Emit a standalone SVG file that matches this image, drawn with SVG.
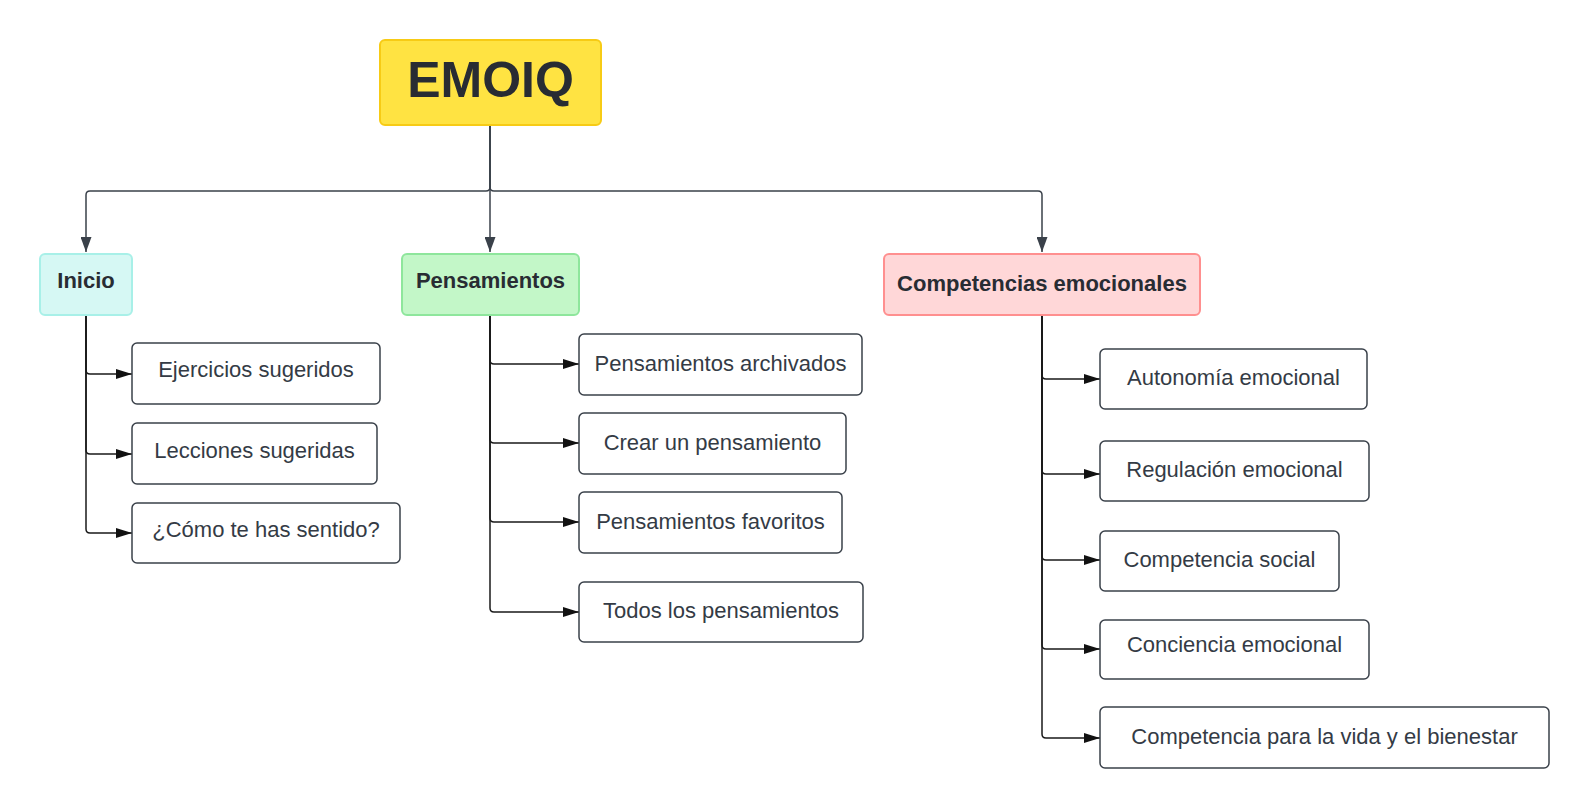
<svg xmlns="http://www.w3.org/2000/svg" width="1591" height="809" viewBox="0 0 1591 809">
  <style>
    .leaf { fill: #ffffff; stroke: #3a414a; stroke-width: 1.5; }
    .t { font-family: "Liberation Sans", Arial, sans-serif; font-size: 22px; fill: #343b45; text-anchor: middle; }
    .tb { font-family: "Liberation Sans", Arial, sans-serif; font-size: 22px; font-weight: bold; fill: #282c33; text-anchor: middle; }
    .top { fill: none; stroke: #3a414a; stroke-width: 1.5; }
    .sub { fill: none; stroke: #1a1a1a; stroke-width: 1.5; }
  </style>
  <defs>
    <marker id="aTop" markerUnits="userSpaceOnUse" markerWidth="11" markerHeight="15" refX="5.5" refY="15" orient="0" viewBox="0 0 11 15">
      <path d="M0,0 L11,0 L5.5,15 z" fill="#3a414a"/>
    </marker>
    <marker id="aSub" markerUnits="userSpaceOnUse" markerWidth="16" markerHeight="10" refX="16" refY="5" orient="auto" viewBox="0 0 16 10">
      <path d="M0,0 L16,5 L0,10 z" fill="#111111"/>
    </marker>
  </defs>
  <rect width="1591" height="809" fill="#ffffff"/>

  <g id="connectors">
    <path class="top" d="M490,125 V187 Q490,191 486,191 H90 Q86,191 86,195 V252" marker-end="url(#aTop)"/>
    <path class="top" d="M490,125 V252" marker-end="url(#aTop)"/>
    <path class="top" d="M490,125 V187 Q490,191 494,191 H1038 Q1042,191 1042,195 V252" marker-end="url(#aTop)"/>

    <path class="sub" d="M86,315 V370 Q86,374 90,374 H132" marker-end="url(#aSub)"/>
    <path class="sub" d="M86,315 V450 Q86,454 90,454 H132" marker-end="url(#aSub)"/>
    <path class="sub" d="M86,315 V529 Q86,533 90,533 H132" marker-end="url(#aSub)"/>

    <path class="sub" d="M490,315 V360 Q490,364 494,364 H579" marker-end="url(#aSub)"/>
    <path class="sub" d="M490,315 V439 Q490,443 494,443 H579" marker-end="url(#aSub)"/>
    <path class="sub" d="M490,315 V518 Q490,522 494,522 H579" marker-end="url(#aSub)"/>
    <path class="sub" d="M490,315 V608 Q490,612 494,612 H579" marker-end="url(#aSub)"/>

    <path class="sub" d="M1042,315 V375 Q1042,379 1046,379 H1100" marker-end="url(#aSub)"/>
    <path class="sub" d="M1042,315 V470 Q1042,474 1046,474 H1100" marker-end="url(#aSub)"/>
    <path class="sub" d="M1042,315 V556 Q1042,560 1046,560 H1100" marker-end="url(#aSub)"/>
    <path class="sub" d="M1042,315 V645 Q1042,649 1046,649 H1100" marker-end="url(#aSub)"/>
    <path class="sub" d="M1042,315 V734 Q1042,738 1046,738 H1100" marker-end="url(#aSub)"/>
  </g>

  <g id="emoiq">
    <rect x="380" y="40" width="221" height="85" rx="5" fill="#ffe342" stroke="#f7cb15" stroke-width="2"/>
    <text x="490.5" y="97" font-family="Liberation Sans, Arial, sans-serif" font-size="50" font-weight="bold" fill="#282c33" text-anchor="middle">EMOIQ</text>
  </g>

  <g id="inicio">
    <rect x="40" y="254" width="92" height="61" rx="5" fill="#d6f8f4" stroke="#a8f0e8" stroke-width="2"/>
    <text class="tb" x="86" y="288">Inicio</text>
  </g>
  <g id="pensamientos">
    <rect x="402" y="254" width="177" height="61" rx="5" fill="#c3f7c8" stroke="#8ee69c" stroke-width="2"/>
    <text class="tb" x="490.5" y="288">Pensamientos</text>
  </g>
  <g id="competencias">
    <rect x="884" y="254" width="316" height="61" rx="5" fill="#ffd7d8" stroke="#ff8f8f" stroke-width="2"/>
    <text class="tb" x="1042" y="290.5">Competencias emocionales</text>
  </g>

  <g id="ejercicios">
    <rect class="leaf" x="132" y="343" width="248" height="61" rx="5"/>
    <text class="t" x="256" y="377">Ejercicios sugeridos</text>
  </g>
  <g id="lecciones">
    <rect class="leaf" x="132" y="423" width="245" height="61" rx="5"/>
    <text class="t" x="254.5" y="458">Lecciones sugeridas</text>
  </g>
  <g id="como">
    <rect class="leaf" x="132" y="503" width="268" height="60" rx="5"/>
    <text class="t" x="266" y="537">¿Cómo te has sentido?</text>
  </g>

  <g id="archivados">
    <rect class="leaf" x="579" y="334" width="283" height="61" rx="5"/>
    <text class="t" x="720.5" y="370.5">Pensamientos archivados</text>
  </g>
  <g id="crear">
    <rect class="leaf" x="579" y="413" width="267" height="61" rx="5"/>
    <text class="t" x="712.5" y="450">Crear un pensamiento</text>
  </g>
  <g id="favoritos">
    <rect class="leaf" x="579" y="492" width="263" height="61" rx="5"/>
    <text class="t" x="710.5" y="528.5">Pensamientos favoritos</text>
  </g>
  <g id="todos">
    <rect class="leaf" x="579" y="582" width="284" height="60" rx="5"/>
    <text class="t" x="721" y="618">Todos los pensamientos</text>
  </g>

  <g id="autonomia">
    <rect class="leaf" x="1100" y="349" width="267" height="60" rx="5"/>
    <text class="t" x="1233.5" y="385">Autonomía emocional</text>
  </g>
  <g id="regulacion">
    <rect class="leaf" x="1100" y="441" width="269" height="60" rx="5"/>
    <text class="t" x="1234.5" y="477">Regulación emocional</text>
  </g>
  <g id="social">
    <rect class="leaf" x="1100" y="531" width="239" height="60" rx="5"/>
    <text class="t" x="1219.5" y="566.5">Competencia social</text>
  </g>
  <g id="conciencia">
    <rect class="leaf" x="1100" y="620" width="269" height="59" rx="5"/>
    <text class="t" x="1234.5" y="651.5">Conciencia emocional</text>
  </g>
  <g id="vida">
    <rect class="leaf" x="1100" y="707" width="449" height="61" rx="5"/>
    <text class="t" x="1324.5" y="744">Competencia para la vida y el bienestar</text>
  </g>
</svg>
